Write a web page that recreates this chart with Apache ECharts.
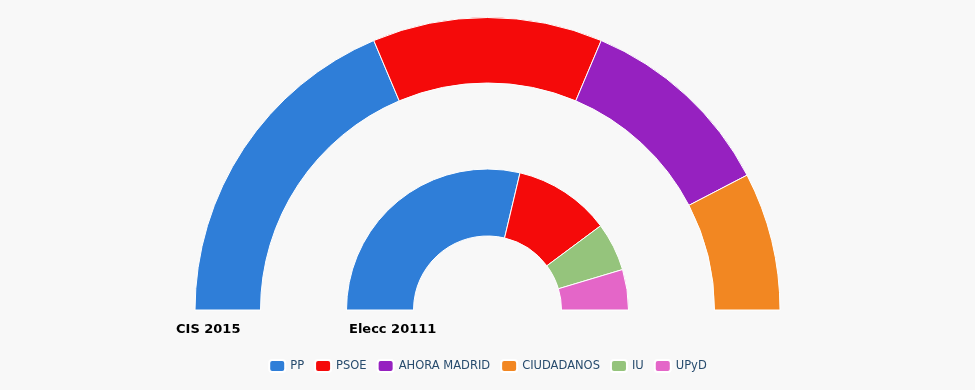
<!DOCTYPE html>
<html>
<head>
<meta charset="utf-8">
<script src="https://cdn.jsdelivr.net/npm/echarts@6/dist/echarts.min.js"></script>
<style>
html,body{margin:0;padding:0;background:#f8f8f8;}
#chart{width:975px;height:390px;}
</style>
</head>
<body>
<div id="chart"></div>
<script>
// Data
var outerName = 'CIS 2015';
var outerCategories = ['PP', 'PSOE', 'AHORA MADRID', 'CIUDADANOS'];
var outerValues = [22, 15, 13, 9];
var innerName = 'Elecc 20111';
var innerCategories = ['PP', 'PSOE', 'IU', 'UPyD'];
var innerValues = [31, 12, 6, 5];
var legendNames = ['PP', 'PSOE', 'AHORA MADRID', 'CIUDADANOS', 'IU', 'UPyD'];
var partyColors = {
  'PP': '#2f7ed8',
  'PSOE': '#f50a0a',
  'AHORA MADRID': '#9621c0',
  'CIUDADANOS': '#f28722',
  'IU': '#95c47c',
  'UPyD': '#e466c8'
};

function buildData(cats, vals) {
  return cats.map(function (c, i) {
    return { name: c, value: vals[i], itemStyle: { color: partyColors[c] } };
  });
}

var chart = echarts.init(document.getElementById('chart'), null, { renderer: 'canvas' });
chart.setOption({
  backgroundColor: '#f8f8f8',
  animation: false,
  title: [
    { text: outerName, left: 176, top: 323, padding: 0, textStyle: { fontFamily: 'DejaVu Sans', fontSize: 13, fontWeight: 'bold', color: '#000' } },
    { text: innerName, left: 349, top: 323, padding: 0, textStyle: { fontFamily: 'DejaVu Sans', fontSize: 13, fontWeight: 'bold', color: '#000' } }
  ],
  legend: {
    data: legendNames,
    top: 359,
    left: 'center',
    padding: 0,
    icon: 'roundRect',
    itemWidth: 16,
    itemHeight: 12,
    itemGap: 10,
    textStyle: { fontFamily: 'DejaVu Sans', fontSize: 11.5, color: '#274b6d' }
  },
  series: [
    {
      name: outerName,
      type: 'pie',
      center: [487.5, 310],
      radius: [227, 292.5],
      startAngle: 180,
      endAngle: 360,
      clockwise: true,
      label: { show: false },
      labelLine: { show: false },
      itemStyle: { borderColor: '#ffffff', borderWidth: 1 },
      emphasis: { disabled: true },
      data: buildData(outerCategories, outerValues)
    },
    {
      name: innerName,
      type: 'pie',
      center: [487.5, 310],
      radius: [74, 141],
      startAngle: 180,
      endAngle: 360,
      clockwise: true,
      label: { show: false },
      labelLine: { show: false },
      itemStyle: { borderColor: '#ffffff', borderWidth: 1 },
      emphasis: { disabled: true },
      data: buildData(innerCategories, innerValues)
    }
  ]
});
</script>
</body>
</html>
